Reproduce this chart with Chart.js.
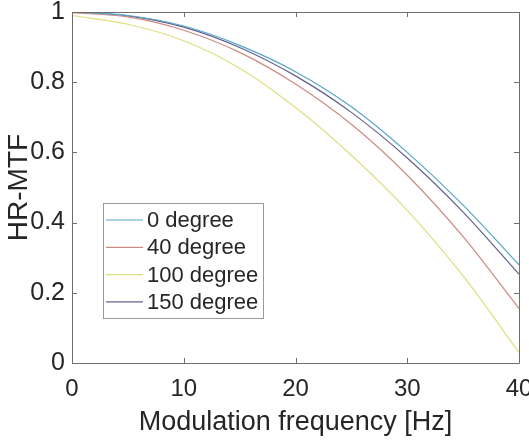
<!DOCTYPE html>
<html>
<head>
<meta charset="utf-8">
<script src="https://cdn.jsdelivr.net/npm/chart.js@4.4.1/dist/chart.umd.min.js"></script>
<style>
html,body{margin:0;padding:0;background:#fff;}
#wrap{width:529px;height:443px;position:relative;}
</style>
</head>
<body>
<div id="wrap"><canvas id="c" width="529" height="443"></canvas></div>
<script>
// Modulation frequency [Hz]
const freqs = [0, 5, 10, 15, 20, 25, 30, 35, 40];
// HR-MTF values
const deg0   = [1.000, 0.990, 0.960, 0.905, 0.830, 0.730, 0.600, 0.450, 0.280];
const deg40  = [0.998, 0.986, 0.948, 0.885, 0.795, 0.680, 0.535, 0.360, 0.155];
const deg100 = [0.990, 0.965, 0.918, 0.840, 0.728, 0.592, 0.435, 0.248, 0.030];
const deg150 = [1.000, 0.989, 0.957, 0.899, 0.818, 0.714, 0.584, 0.430, 0.253];
const seriesLabels = ['0 degree', '40 degree', '100 degree', '150 degree'];
const seriesColors = ['#56a6c9', '#cc8a82', '#dede80', '#625f8e'];
const xTicks = [0, 10, 20, 30, 40];
const yTicks = [0, 0.2, 0.4, 0.6, 0.8, 1];

const FONT = "'Liberation Sans', Arial, sans-serif";
const AXIS_COLOR = '#6e6e6e';
const TEXT_COLOR = '#262626';

function toXY(ys){ return freqs.map((f,i)=>({x:f, y:ys[i]})); }
const allSeries = [deg0, deg40, deg100, deg150];

const datasets = allSeries.map((s,i)=>({
  label: seriesLabels[i],
  data: toXY(s),
  borderColor: seriesColors[i],
  backgroundColor: seriesColors[i],
  borderWidth: 1.2,
  pointRadius: 0,
  cubicInterpolationMode: 'monotone',
  fill: false
}));

const boxPlugin = {
  id: 'matlabBox',
  afterDatasetsDraw(chart){
    const ctx = chart.ctx;
    const a = chart.chartArea;
    const xs = chart.scales.x, ys = chart.scales.y;
    ctx.save();
    ctx.strokeStyle = AXIS_COLOR;
    ctx.lineWidth = 1;
    ctx.beginPath();
    ctx.rect(Math.round(a.left)+0.5, Math.round(a.top)+0.5, Math.round(a.right-a.left), Math.round(a.bottom-a.top));
    ctx.stroke();
    const tl = 5;
    ctx.beginPath();
    xTicks.forEach(v=>{
      const px = Math.round(xs.getPixelForValue(v))+0.5;
      ctx.moveTo(px, a.bottom); ctx.lineTo(px, a.bottom - tl);
      ctx.moveTo(px, a.top); ctx.lineTo(px, a.top + tl);
    });
    yTicks.forEach(v=>{
      const py = Math.round(ys.getPixelForValue(v))+0.5;
      ctx.moveTo(a.left, py); ctx.lineTo(a.left + tl, py);
      ctx.moveTo(a.right, py); ctx.lineTo(a.right - tl, py);
    });
    ctx.stroke();

    // legend box inside plot
    const lx = 103.5, ly = 203.5, lw = 160, lh = 115;
    ctx.fillStyle = '#ffffff';
    ctx.fillRect(lx, ly, lw, lh);
    ctx.strokeStyle = '#9a9a9a';
    ctx.strokeRect(lx, ly, lw, lh);
    ctx.font = '22px ' + FONT;
    ctx.textBaseline = 'middle';
    ctx.textAlign = 'left';
    chart.data.datasets.forEach((d,i)=>{
      const cy = 220 + i*27.3;
      ctx.strokeStyle = d.borderColor;
      ctx.lineWidth = 1.2;
      ctx.beginPath();
      ctx.moveTo(106, cy); ctx.lineTo(143, cy);
      ctx.stroke();
      ctx.fillStyle = TEXT_COLOR;
      ctx.fillText(d.label, 147, cy + 1);
    });
    ctx.restore();
  }
};

new Chart(document.getElementById('c'), {
  type: 'line',
  data: { datasets },
  options: {
    responsive: false,
    animation: false,
    devicePixelRatio: 1,
    layout: { padding: { left: 0, right: 10, top: 12, bottom: 0 } },
    plugins: { legend: { display: false }, tooltip: { enabled: false } },
    scales: {
      x: {
        type: 'linear', min: 0, max: 40,
        afterBuildTicks(s){ s.ticks = xTicks.map(v=>({value:v})); },
        afterFit(s){ s.height = 80; s.paddingLeft = 0; s.paddingRight = 0; },
        grid: { display: false, drawTicks: false },
        border: { display: false },
        ticks: { color: TEXT_COLOR, font: { family: FONT, size: 24 }, padding: 12, maxRotation: 0, autoSkip: false,
                 callback: v => String(v) },
        title: { display: true, text: 'Modulation frequency [Hz]', color: TEXT_COLOR, font: { family: FONT, size: 27 }, padding: { top: 0, bottom: 4 } }
      },
      y: {
        type: 'linear', min: 0, max: 1,
        afterBuildTicks(s){ s.ticks = yTicks.map(v=>({value:v})); },
        afterFit(s){ s.width = 72; s.paddingTop = 0; s.paddingBottom = 0; },
        grid: { display: false, drawTicks: false },
        border: { display: false },
        ticks: { color: TEXT_COLOR, font: { family: FONT, size: 25 }, padding: 7,
                 callback: v => String(Number(v.toFixed(1))) },
        title: { display: true, text: 'HR-MTF', color: TEXT_COLOR, font: { family: FONT, size: 28 }, padding: { top: 2, bottom: 0 } }
      }
    }
  },
  plugins: [boxPlugin]
});
</script>
</body>
</html>
